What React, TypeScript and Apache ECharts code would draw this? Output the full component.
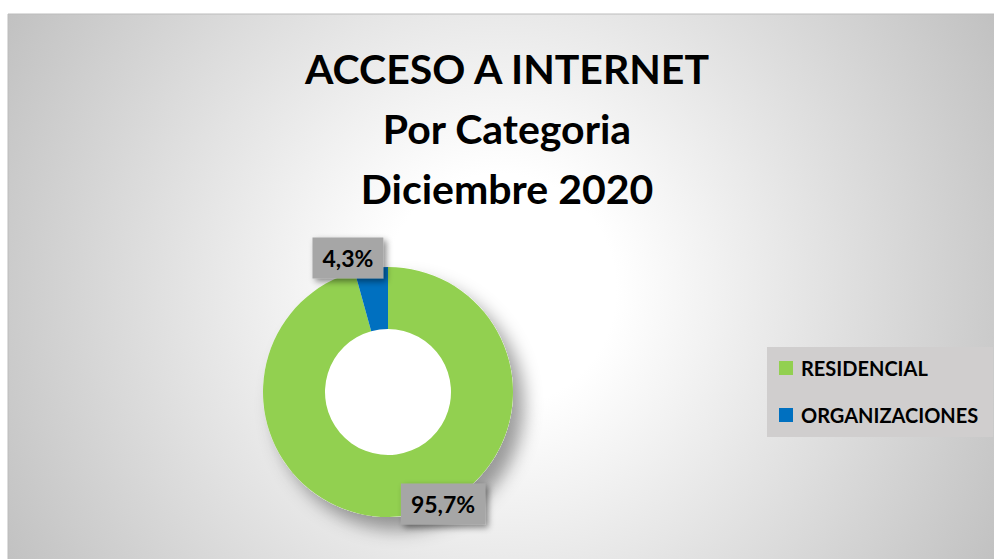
import React, { useEffect, useRef } from "react";
import * as echarts from "echarts";

const titleLines = ["ACCESO A INTERNET", "Por Categoria", "Diciembre 2020"];
const categories = ["RESIDENCIAL", "ORGANIZACIONES"];
const values = [95.7, 4.3];
const colors = ["#92d050", "#0070c0"];
const labelOffsets = [
  [42, 16],
  [-27, -38],
];

const FONT = "Lato, 'Open Sans', sans-serif";

export default function App() {
  const ref = useRef<HTMLDivElement>(null);
  useEffect(() => {
    if (!ref.current) return;
    const chart = echarts.init(ref.current, null, { renderer: "svg" });
    chart.setOption({
      animation: false,
      graphic: [
        {
          type: "rect",
          z: -10,
          silent: true,
          shape: { x: 8, y: 14, width: 995, height: 560 },
          style: {
            fill: new echarts.graphic.RadialGradient(
              500,
              290,
              580,
              [
                { offset: 0, color: "#ffffff" },
                { offset: 0.2, color: "#ffffff" },
                { offset: 1, color: "#bfbfbf" },
              ],
              true
            ),
            stroke: "#bcbcbc",
            lineWidth: 1,
          },
        },
        {
          type: "text",
          x: 507,
          y: 38,
          silent: true,
          style: {
            text: titleLines.join("\n"),
            textAlign: "center",
            textVerticalAlign: "top",
            fontFamily: FONT,
            fontWeight: "bold",
            fontSize: 41,
            lineHeight: 60,
            fill: "#000000",
          },
        },
      ],
      legend: {
        orient: "vertical",
        left: 767,
        top: 347,
        icon: "rect",
        itemWidth: 14,
        itemHeight: 14,
        itemGap: 27,
        backgroundColor: "#d0cece",
        padding: [11, 15, 12, 12],
        data: categories,
        textStyle: {
          fontFamily: FONT,
          fontWeight: "bold",
          fontSize: 20,
          lineHeight: 20,
          color: "#000000",
          padding: [0, 0, 0, 3],
        },
      },
      series: [
        {
          // white disk beneath the ring, only to cast the ring's drop shadow
          type: "pie",
          name: "shadow",
          silent: true,
          center: [388, 392],
          radius: [0, 125],
          z: 1,
          label: { show: false },
          labelLine: { show: false },
          emphasis: { disabled: true },
          tooltip: { show: false },
          itemStyle: {
            color: "#ffffff",
            shadowBlur: 18,
            shadowColor: "rgba(0,0,0,0.38)",
            shadowOffsetX: 11,
            shadowOffsetY: 13,
          },
          data: [{ name: "", value: 1 }],
        },
        {
          type: "pie",
          center: [388, 392],
          radius: [63, 125],
          startAngle: 90,
          clockwise: true,
          color: colors,
          z: 2,
          label: {
            show: true,
            position: "inside",
            formatter: (p: any) => p.value.toFixed(1).replace(".", ",") + "%",
            fontFamily: FONT,
            fontWeight: "bold",
            fontSize: 23,
            lineHeight: 23,
            color: "#000000",
            backgroundColor: "#a6a6a6",
            padding: [9, 10, 9, 10],
            shadowColor: "rgba(0,0,0,0.45)",
            shadowBlur: 6,
            shadowOffsetX: 3,
            shadowOffsetY: 3,
          },
          labelLine: { show: false },
          labelLayout: (params: any) => ({
            dx: labelOffsets[params.dataIndex][0],
            dy: labelOffsets[params.dataIndex][1],
          }),
          emphasis: { disabled: true },
          data: categories.map((c, i) => ({ name: c, value: values[i] })),
        },
      ],
    });
    return () => chart.dispose();
  }, []);
  return (
    <div
      ref={ref}
      style={{
        position: "fixed",
        left: 0,
        top: 0,
        width: 994,
        height: 559,
        background: "#ffffff",
      }}
    />
  );
}
